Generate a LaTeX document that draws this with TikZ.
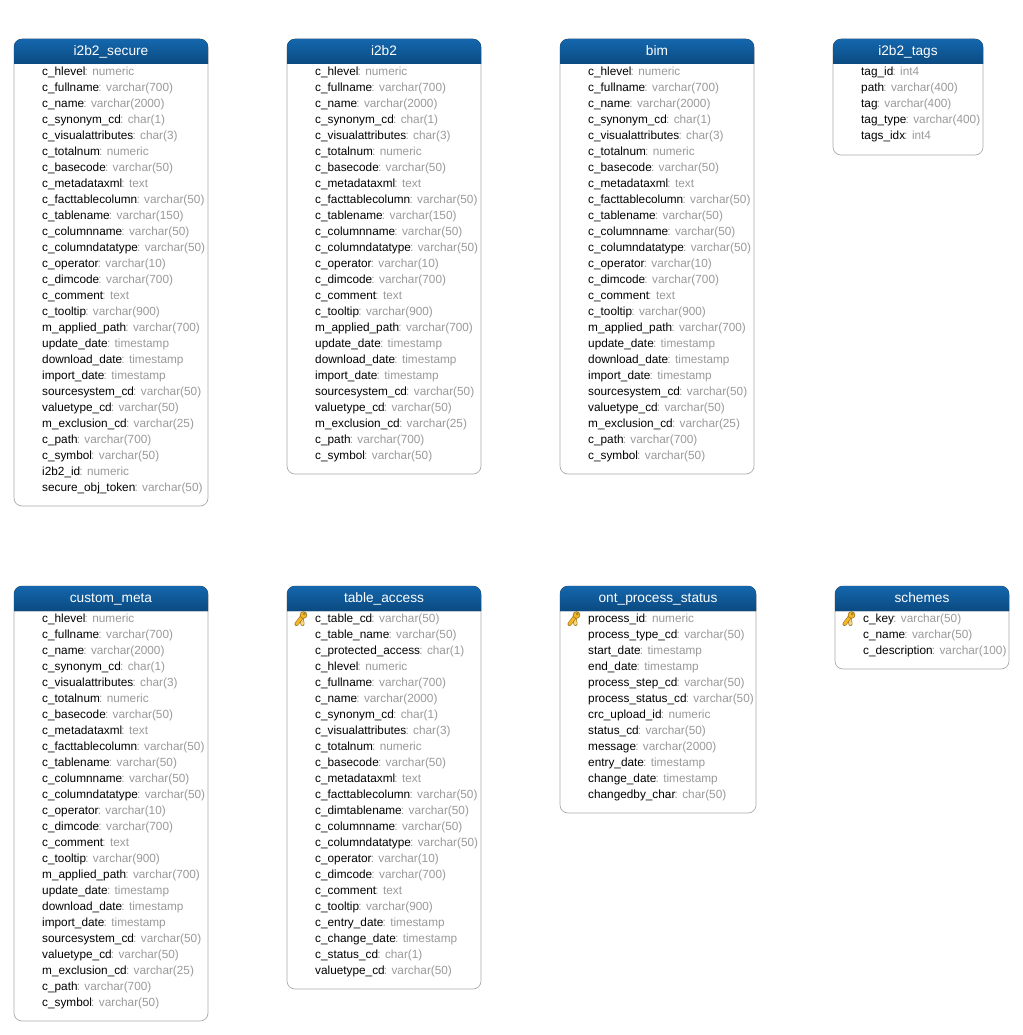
\documentclass[tikz,border=0pt]{standalone}
\usepackage{fontspec}
\setmainfont{Liberation Sans}
\definecolor{typegray}{HTML}{9A9A9A}
\definecolor{edgegray}{HTML}{ABABAB}
\definecolor{headtop}{HTML}{1467AE}
\definecolor{headbot}{HTML}{0B4A80}
\definecolor{keygold}{HTML}{F5B62A}
\definecolor{keypale}{HTML}{F9D67A}
\definecolor{keydark}{HTML}{9A7418}
\catcode`\_=12
\tikzset{
  tablebody/.style={draw=edgegray,line width=0.7pt,rounded corners=8pt,fill=white},
  headband/.style={top color=headtop,bottom color=headbot,draw=none},
  titletext/.style={text=white,font=\fontsize{13.7}{15}\selectfont,inner sep=0pt,anchor=base},
  rowtext/.style={font=\fontsize{11.8}{13}\selectfont,inner sep=0pt,anchor=base west},
  keyring/.style={draw=keydark,line width=0.6pt,fill=#1},
  keyrim/.style={draw=keydark,line width=4pt,line cap=round},
  keycore/.style={draw=#1,line width=2.8pt,line cap=round},
}
% #1 id, #2 left, #3 top, #4 width, #5 height, #6 title, #7 rows
\newcommand{\erbox}[7]{%
  \path[tablebody] (#2,#3) rectangle ++(#4,#5);
  \fill[headband] (#2,#3+25) [rounded corners=8pt] -- (#2,#3) -- (#2+#4,#3) [sharp corners] -- (#2+#4,#3+25) -- cycle;
  \node[titletext] (#1-title) at (#2+#4/2,#3+16.5) {#6};
  \foreach \rn/\rt [count=\ri] in {#7} {
    \node[rowtext] (#1-\ri) at (#2+28,#3+36.4+16*\ri-16) {\rn\kern-0.8pt\textcolor{typegray}{: \rt}};
  }
}
\newcommand{\erkey}[2]{%
  \begin{scope}[shift={(#1,#2)}]
    \draw[keyrim] (1.5,-1) -- (2.5,5);
    \draw[keycore=keypale] (1.5,-1) -- (2.5,5);
    \draw[keyrim] (2.5,-3) -- (-3.5,5);
    \draw[keycore=keygold] (2.5,-3) -- (-3.5,5);
    \path[keyring=keygold,even odd rule] (3.5,-4) circle (3.4) (4.2,-5) circle (1);
  \end{scope}
}
\begin{document}
\begin{tikzpicture}[x=1pt,y=-1pt]
\useasboundingbox (0,0) rectangle (1022,1035);
\erbox{sec}{14}{39}{194}{467}{i2b2_secure}{c_hlevel/numeric,c_fullname/varchar(700),c_name/varchar(2000),c_synonym_cd/char(1),c_visualattributes/char(3),c_totalnum/numeric,c_basecode/varchar(50),c_metadataxml/text,c_facttablecolumn/varchar(50),c_tablename/varchar(150),c_columnname/varchar(50),c_columndatatype/varchar(50),c_operator/varchar(10),c_dimcode/varchar(700),c_comment/text,c_tooltip/varchar(900),m_applied_path/varchar(700),update_date/timestamp,download_date/timestamp,import_date/timestamp,sourcesystem_cd/varchar(50),valuetype_cd/varchar(50),m_exclusion_cd/varchar(25),c_path/varchar(700),c_symbol/varchar(50),i2b2_id/numeric,secure_obj_token/varchar(50)}
\erbox{ib}{287}{39}{194}{435}{i2b2}{c_hlevel/numeric,c_fullname/varchar(700),c_name/varchar(2000),c_synonym_cd/char(1),c_visualattributes/char(3),c_totalnum/numeric,c_basecode/varchar(50),c_metadataxml/text,c_facttablecolumn/varchar(50),c_tablename/varchar(150),c_columnname/varchar(50),c_columndatatype/varchar(50),c_operator/varchar(10),c_dimcode/varchar(700),c_comment/text,c_tooltip/varchar(900),m_applied_path/varchar(700),update_date/timestamp,download_date/timestamp,import_date/timestamp,sourcesystem_cd/varchar(50),valuetype_cd/varchar(50),m_exclusion_cd/varchar(25),c_path/varchar(700),c_symbol/varchar(50)}
\erbox{bim}{560}{39}{194}{435}{bim}{c_hlevel/numeric,c_fullname/varchar(700),c_name/varchar(2000),c_synonym_cd/char(1),c_visualattributes/char(3),c_totalnum/numeric,c_basecode/varchar(50),c_metadataxml/text,c_facttablecolumn/varchar(50),c_tablename/varchar(50),c_columnname/varchar(50),c_columndatatype/varchar(50),c_operator/varchar(10),c_dimcode/varchar(700),c_comment/text,c_tooltip/varchar(900),m_applied_path/varchar(700),update_date/timestamp,download_date/timestamp,import_date/timestamp,sourcesystem_cd/varchar(50),valuetype_cd/varchar(50),m_exclusion_cd/varchar(25),c_path/varchar(700),c_symbol/varchar(50)}
\erbox{tags}{833}{39}{150}{116}{i2b2_tags}{tag_id/int4,path/varchar(400),tag/varchar(400),tag_type/varchar(400),tags_idx/int4}
\erbox{cus}{14}{586}{194}{435}{custom_meta}{c_hlevel/numeric,c_fullname/varchar(700),c_name/varchar(2000),c_synonym_cd/char(1),c_visualattributes/char(3),c_totalnum/numeric,c_basecode/varchar(50),c_metadataxml/text,c_facttablecolumn/varchar(50),c_tablename/varchar(50),c_columnname/varchar(50),c_columndatatype/varchar(50),c_operator/varchar(10),c_dimcode/varchar(700),c_comment/text,c_tooltip/varchar(900),m_applied_path/varchar(700),update_date/timestamp,download_date/timestamp,import_date/timestamp,sourcesystem_cd/varchar(50),valuetype_cd/varchar(50),m_exclusion_cd/varchar(25),c_path/varchar(700),c_symbol/varchar(50)}
\erbox{acc}{287}{586}{194}{403}{table_access}{c_table_cd/varchar(50),c_table_name/varchar(50),c_protected_access/char(1),c_hlevel/numeric,c_fullname/varchar(700),c_name/varchar(2000),c_synonym_cd/char(1),c_visualattributes/char(3),c_totalnum/numeric,c_basecode/varchar(50),c_metadataxml/text,c_facttablecolumn/varchar(50),c_dimtablename/varchar(50),c_columnname/varchar(50),c_columndatatype/varchar(50),c_operator/varchar(10),c_dimcode/varchar(700),c_comment/text,c_tooltip/varchar(900),c_entry_date/timestamp,c_change_date/timestamp,c_status_cd/char(1),valuetype_cd/varchar(50)}
\erbox{ont}{560}{586}{196}{227}{ont_process_status}{process_id/numeric,process_type_cd/varchar(50),start_date/timestamp,end_date/timestamp,process_step_cd/varchar(50),process_status_cd/varchar(50),crc_upload_id/numeric,status_cd/varchar(50),message/varchar(2000),entry_date/timestamp,change_date/timestamp,changedby_char/char(50)}
\erbox{sch}{835}{586}{174}{83}{schemes}{c_key/varchar(50),c_name/varchar(50),c_description/varchar(100)}
\erkey{300}{619}
\erkey{573}{619}
\erkey{848}{619}
\end{tikzpicture}
\end{document}
